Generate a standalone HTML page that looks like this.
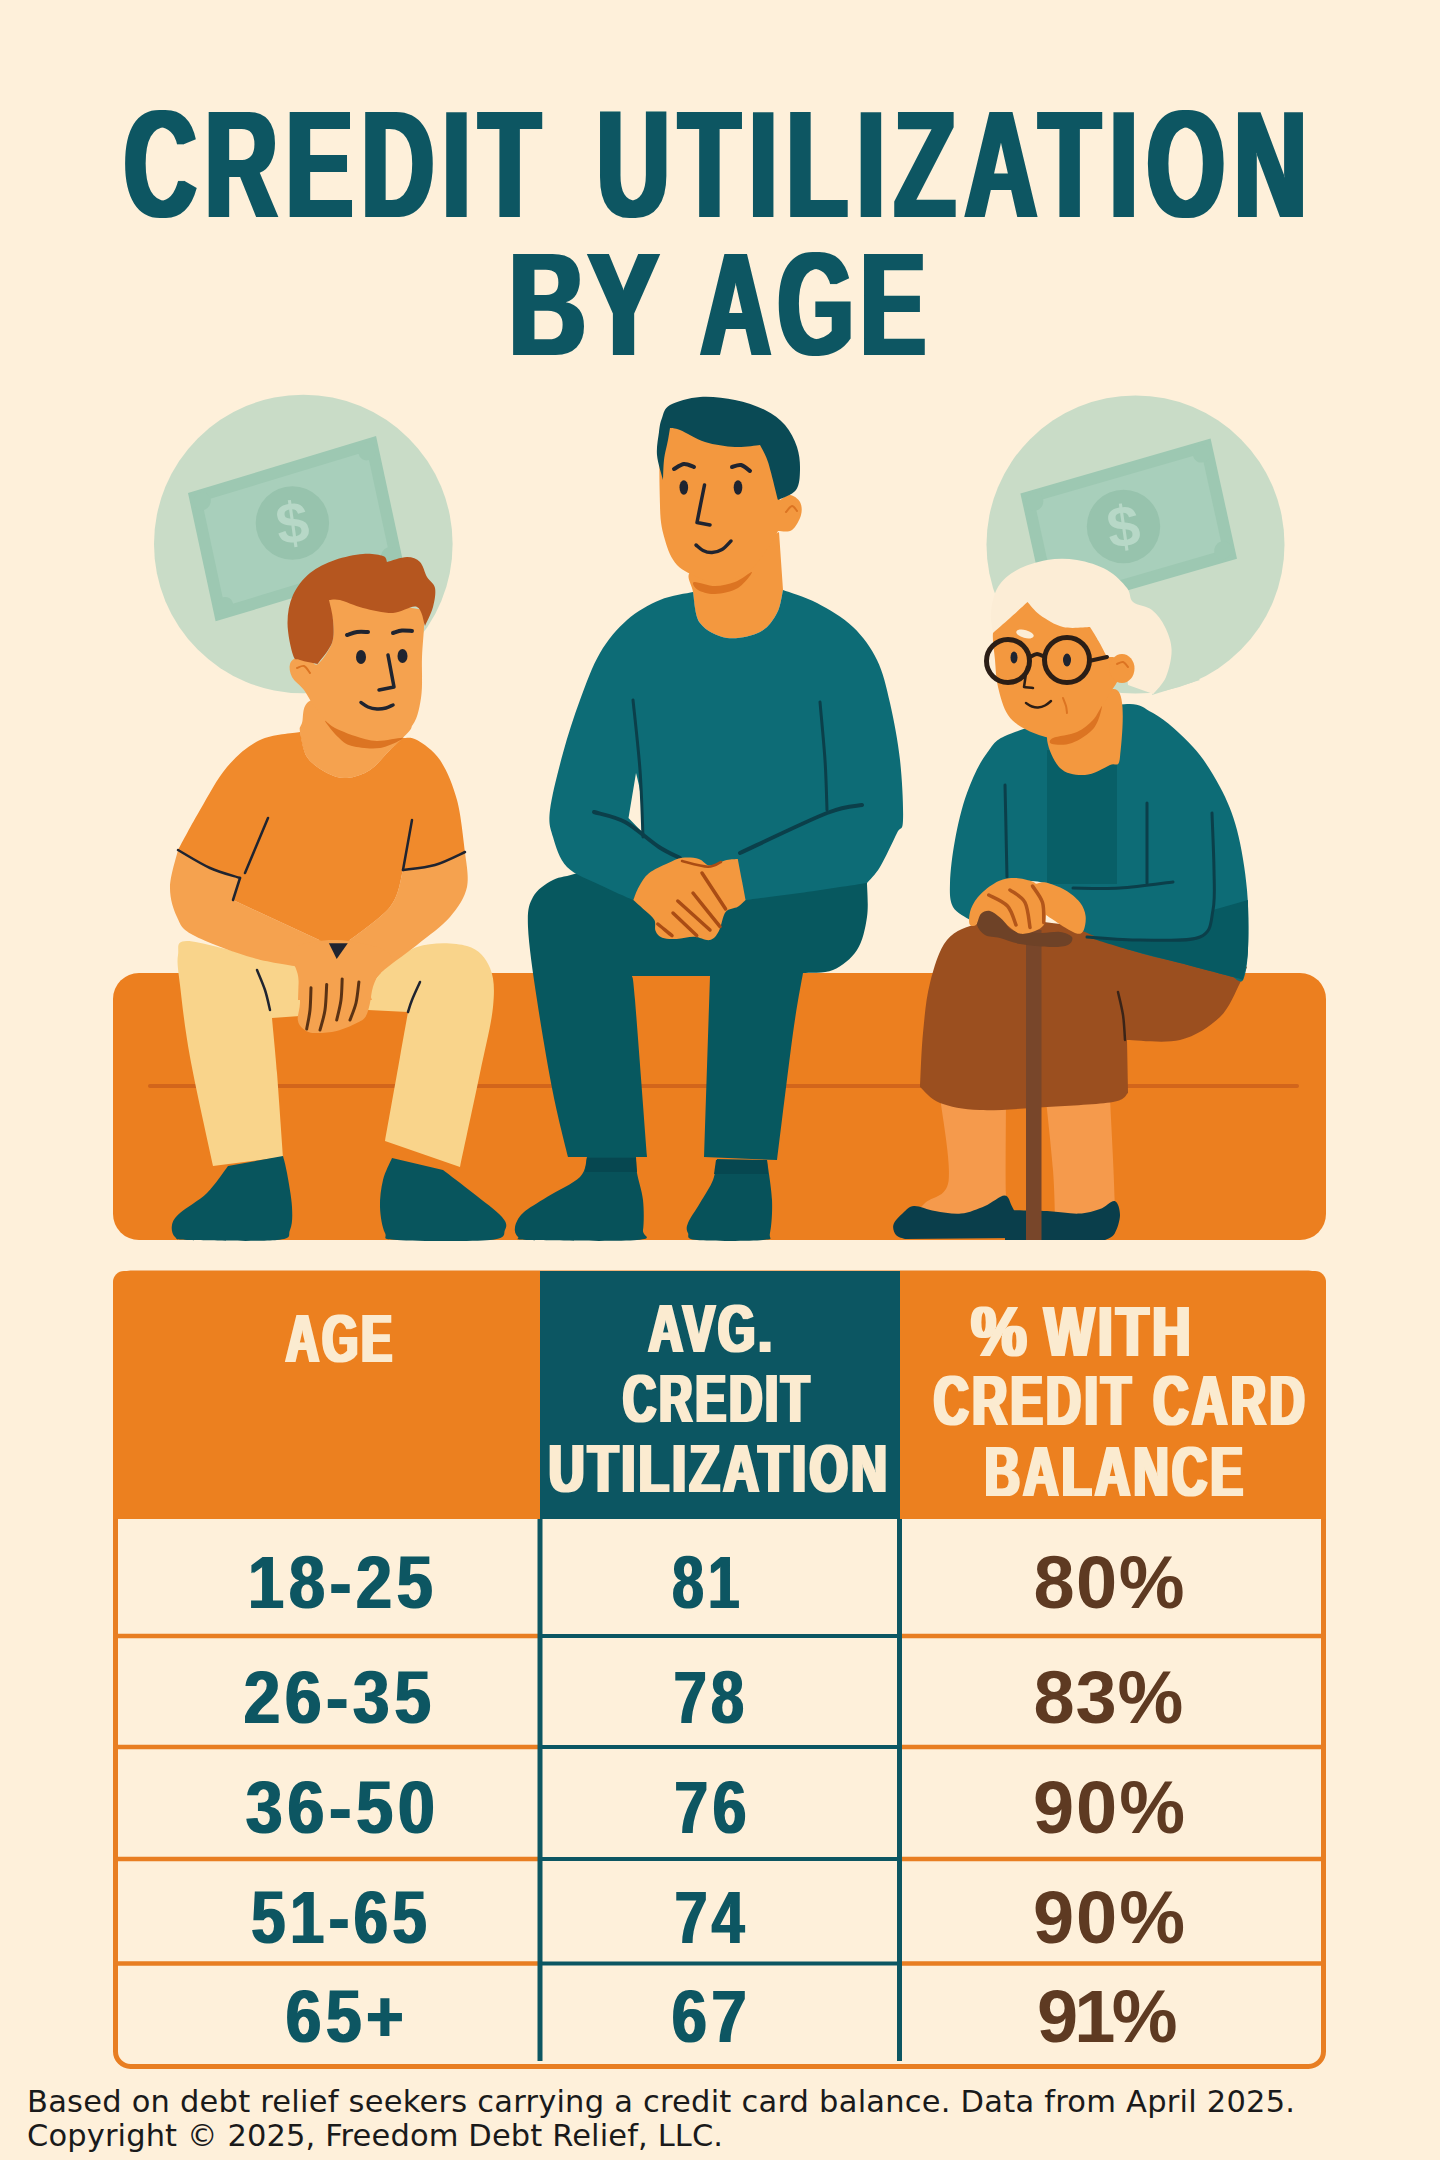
<!DOCTYPE html>
<html lang="en">
<head>
<meta charset="utf-8">
<title>Credit Utilization by Age</title>
<style>
html,body{margin:0;padding:0;background:#FEF0DA;}
body{width:1440px;height:2160px;overflow:hidden;}
svg{display:block;}
.t{font-family:"Liberation Sans",Arial,sans-serif;font-weight:bold;}
.f{font-family:"DejaVu Sans","Liberation Sans",sans-serif;}
</style>
</head>
<body>
<svg width="1440" height="2160" viewBox="0 0 1440 2160">
<defs>
<filter id="fat" x="-5%" y="-5%" width="110%" height="110%"><feMorphology operator="dilate" radius="3 0"/></filter>
<filter id="fat2" x="-5%" y="-5%" width="110%" height="110%"><feMorphology operator="dilate" radius="1.8 0"/></filter>
<filter id="fat3" x="-5%" y="-5%" width="110%" height="110%"><feMorphology operator="dilate" radius="1 0.3"/></filter>
</defs>
<rect width="1440" height="2160" fill="#FEF0DA"/>

<!-- TITLE -->
<g class="t" fill="#0C5662" filter="url(#fat)">
<text transform="translate(123.99 216.5) scale(0.6600 1)" font-size="152" letter-spacing="12.98">CREDIT</text>
<text transform="translate(596.98 216.5) scale(0.6600 1)" font-size="152" letter-spacing="14.10">UTILIZATION</text>
<text transform="translate(509.08 355) scale(0.7239 1)" font-size="147" letter-spacing="2.94">BY</text>
<text transform="translate(700.56 355) scale(0.6636 1)" font-size="147" letter-spacing="10.29">AGE</text>
</g>

<!-- ILLUSTRATION -->
<g id="illu">
<circle cx="303.3" cy="544" r="149.3" fill="#C9DCC7"/>
<g transform="matrix(0.9570 -0.2901 0.2102 0.9777 188.00 493.00)">
<rect width="196.5" height="131.3" fill="#9DC8B2"/>
<rect x="12" y="12" width="172.5" height="107.3" fill="#A8CFBB"/>
<circle cx="12.0" cy="12.0" r="9" fill="#9DC8B2"/>
<circle cx="184.5" cy="12.0" r="9" fill="#9DC8B2"/>
<circle cx="12.0" cy="119.3" r="9" fill="#9DC8B2"/>
<circle cx="184.5" cy="119.3" r="9" fill="#9DC8B2"/>
</g>
<circle cx="292.4" cy="523" r="36.700" fill="#97C3AD"/>
<text x="292.4" y="543" transform="rotate(-8 292.4 523)" text-anchor="middle" font-family="Liberation Sans,sans-serif" font-weight="bold" font-size="58" fill="#B7D8C7">$</text>
<path d="M1152 695L1166 655L1200 680Z" fill="#C9DCC7"/>
<circle cx="1135.5" cy="544.5" r="149" fill="#C9DCC7"/>
<g transform="matrix(0.9606 -0.2778 0.2144 0.9768 1020.40 493.40)">
<rect width="198.0" height="123.2" fill="#9DC8B2"/>
<rect x="12" y="12" width="174.0" height="99.2" fill="#A8CFBB"/>
<circle cx="12.0" cy="12.0" r="9" fill="#9DC8B2"/>
<circle cx="186.0" cy="12.0" r="9" fill="#9DC8B2"/>
<circle cx="12.0" cy="111.2" r="9" fill="#9DC8B2"/>
<circle cx="186.0" cy="111.2" r="9" fill="#9DC8B2"/>
</g>
<circle cx="1123.5" cy="526.5" r="36.700" fill="#97C3AD"/>
<text x="1123.5" y="546.5" transform="rotate(-8 1123.5 526.5)" text-anchor="middle" font-family="Liberation Sans,sans-serif" font-weight="bold" font-size="58" fill="#B7D8C7">$</text>
<rect x="113" y="973" width="1213" height="267" rx="26" fill="#EC7F1F"/>
<path d="M150 1086H1297" stroke="#D2651B" stroke-width="4" stroke-linecap="round"/>
<g id="boy">
<path d="M187 941C199 941 231.2 951 250 955C268.8 959 291.7 963.3 300 965L300 1016L272 1018C272.8 1027.2 275.2 1049.8 277 1073C278.8 1096.2 282 1143 283 1157L213 1166C209.2 1147.8 195.5 1087.2 190 1057C184.5 1026.8 182 1002 180 985C178 968 176.8 962.3 178 955C179.2 947.7 175 941 187 941Z" fill="#F9D48B"/>
<path d="M368 1003C369.5 998.7 368.8 986.3 377 977C385.2 967.7 402 952.2 417 947C432 941.8 454.8 942.5 467 946C479.2 949.5 485.7 957.8 490 968C494.3 978.2 494.7 989.5 493 1007C491.3 1024.5 485.5 1046.3 480 1073C474.5 1099.7 463.3 1151.3 460 1167L385 1141C387.5 1127 396.2 1078.5 400 1057C403.8 1035.5 406.7 1019.5 408 1012L368 1010L368 1003Z" fill="#F9D48B"/>
<path d="M257 970C258.3 973.3 262.8 983.3 265 990C267.2 996.7 269.2 1006.7 270 1010" fill="none" stroke="#1F2430" stroke-width="2.5" stroke-linecap="round" stroke-linejoin="round"/>
<path d="M420 982C418.7 985 414 995 412 1000C410 1005 408.7 1010 408 1012" fill="none" stroke="#1F2430" stroke-width="2.5" stroke-linecap="round" stroke-linejoin="round"/>
<path d="M228 1166L283 1156C283.7 1158.8 285.5 1164.5 287 1173C288.5 1181.5 291.5 1197.5 292 1207C292.5 1216.5 292.5 1224.5 290 1230C287.5 1235.5 293.7 1238.3 277 1240C260.3 1241.7 207 1240.5 190 1240C173 1239.5 178 1239.5 175 1237C172 1234.5 171.2 1229 172 1225C172.8 1221 174.2 1218.3 180 1213C185.8 1207.7 199 1200.8 207 1193C215 1185.2 224.5 1170.5 228 1166Z" fill="#08555D"/>
<path d="M392 1158L443 1170C448 1173.8 463.2 1185.2 473 1193C482.8 1200.8 496.7 1210.8 502 1217C507.3 1223.2 507 1226.2 505 1230C503 1233.8 508 1238.3 490 1240C472 1241.7 414.5 1241.2 397 1240C379.5 1238.8 387.8 1238.5 385 1233C382.2 1227.5 380.3 1215.8 380 1207C379.7 1198.2 381 1188.2 383 1180C385 1171.8 390.5 1161.7 392 1158Z" fill="#08555D"/>
<path d="M300 940L350 940L372 1000L298 1000L300 940Z" fill="#F5A24F"/>
<path d="M178 850C176.7 856.2 170.2 875.8 170 887C169.8 898.2 173.2 909 177 917C180.8 925 180.8 928.3 193 935C205.2 941.7 232.2 951.7 250 957C267.8 962.3 291.7 965.3 300 967L312 960L330 945L233 900L240 878L178 850Z" fill="#F5A24F"/>
<path d="M465 852C465.3 857.8 469.5 876.2 467 887C464.5 897.8 458.3 907.3 450 917C441.7 926.7 429.2 935 417 945C404.8 955 385.2 967.3 377 977C368.8 986.7 369.5 998.7 368 1003L350 960L343 945C350.8 938.7 380 919.5 390 907C400 894.5 400.8 876.2 403 870L465 852Z" fill="#F5A24F"/>
<path d="M312 700C300.7 703.8 304 717.7 302 723C300 728.3 299.2 726.3 300 732C300.8 737.7 302.5 750.2 307 757C311.5 763.8 320.3 769.5 327 773C333.7 776.5 339.8 778.5 347 778C354.2 777.5 362.8 774.7 370 770C377.2 765.3 384.5 755.3 390 750C395.5 744.7 399.7 742.7 403 738C406.3 733.3 415.5 728.3 410 722C404.5 715.7 386.3 703.7 370 700C353.7 696.3 323.3 696.2 312 700Z" fill="#F5A24F"/>
<path d="M300 732C293.3 733.3 272.2 734.2 260 740C247.8 745.8 237 755.3 227 767C217 778.7 208.2 796.2 200 810C191.8 823.8 181.7 843.3 178 850C183.3 853 199.7 863.3 210 868C220.3 872.7 235 876.3 240 878L233 900L330 945L343 945C350.8 938.7 380 919.5 390 907C400 894.5 400.8 876.2 403 870C408.3 869.2 424.7 868 435 865C445.3 862 460 854.2 465 852C463.7 843.3 461.2 815.3 457 800C452.8 784.7 446.7 770 440 760C433.3 750 423.2 743.7 417 740C410.8 736.3 405.3 738.3 403 738C400.8 740 395.5 744.7 390 750C384.5 755.3 377.2 765.3 370 770C362.8 774.7 354.2 777.5 347 778C339.8 778.5 333.7 776.5 327 773C320.3 769.5 311.5 763.8 307 757C302.5 750.2 301.2 736.2 300 732Z" fill="#F08A2C"/>
<path d="M268 818C264.2 827.2 248.8 863.8 245 873" fill="none" stroke="#1F2430" stroke-width="2.5" stroke-linecap="round" stroke-linejoin="round"/>
<path d="M412 820C410.5 828.3 404.5 861.7 403 870" fill="none" stroke="#1F2430" stroke-width="2.5" stroke-linecap="round" stroke-linejoin="round"/>
<path d="M178 850C183.3 853 199.7 863.3 210 868C220.3 872.7 235 876.3 240 878" fill="none" stroke="#1F2430" stroke-width="2.5" stroke-linecap="round" stroke-linejoin="round"/>
<path d="M240 878C238.8 881.7 234.2 896.3 233 900" fill="none" stroke="#1F2430" stroke-width="2.5" stroke-linecap="round" stroke-linejoin="round"/>
<path d="M403 870C408.3 869.2 424.7 868 435 865C445.3 862 460 854.2 465 852" fill="none" stroke="#1F2430" stroke-width="2.5" stroke-linecap="round" stroke-linejoin="round"/>
<path d="M290 957.8C289.3 961.6 294.1 963.9 295.6 967.8C297.1 971.7 298.2 975.1 298.9 981C299.6 986.9 300.2 996.5 300 1003C299.8 1009.5 297.2 1015.7 297.8 1020C298.4 1024.3 300.5 1026.7 303.3 1028.9C306.1 1031.1 308.8 1032.7 314.4 1033C320 1033.3 329.6 1032.7 336.7 1031C343.8 1029.3 351.9 1025.4 356.7 1023C361.5 1020.6 363.4 1020 365.6 1016.7C367.8 1013.4 368.8 1008 370 1003C371.2 998 371.2 992.2 373 986.7C374.8 981.2 377.8 974.5 381 970C384.2 965.5 392.2 963.7 392 960C391.8 956.3 389.2 951.3 380 948C370.8 944.7 350.3 940.5 337 940C323.7 939.5 307.8 942 300 945C292.2 948 290.7 954 290 957.8Z" fill="#F5A24F"/>
<path d="M311 987.8C310.8 991.5 310.7 1003.1 310 1010C309.3 1016.9 307.2 1025.8 306.7 1028.9" fill="none" stroke="#5A3214" stroke-width="3" stroke-linecap="round" stroke-linejoin="round"/>
<path d="M326.7 984.4C326.4 988.7 326.1 1002.4 325 1010C323.9 1017.6 320.8 1026.7 320 1030" fill="none" stroke="#5A3214" stroke-width="3" stroke-linecap="round" stroke-linejoin="round"/>
<path d="M342.2 978.9C342 982.4 341.9 993.1 341 1000C340.1 1006.9 337.4 1016.7 336.7 1020" fill="none" stroke="#5A3214" stroke-width="3" stroke-linecap="round" stroke-linejoin="round"/>
<path d="M358.9 982C358.4 985.5 357.5 996.7 356 1003C354.5 1009.3 351 1017.2 350 1020" fill="none" stroke="#5A3214" stroke-width="3" stroke-linecap="round" stroke-linejoin="round"/>
<path d="M328.900 943.300L347.800 943.300L336.700 958.900Z" fill="#1F2430"/>
<path d="M330 598C345.2 596.3 408.3 608 424 610C424 612.8 424.3 619.2 424 627C423.7 634.8 422.5 645.2 422 657C421.5 668.8 423 686.2 421 698C419 709.8 417.3 720.8 410 728C402.7 735.2 389.5 741 377 741C364.5 741 345.3 733.7 335 728C324.7 722.3 320.2 713.3 315 707C309.8 700.7 307.8 695 304 690C300.2 685 294.3 681.3 292 677C289.7 672.7 289 667.3 290 664C291 660.7 294.7 657.7 298 657C301.3 656.3 306.7 658.8 310 660C313.3 661.2 314.3 666.8 318 664C321.7 661.2 329.5 650.3 332 643C334.5 635.7 333.3 627.5 333 620C332.7 612.5 314.8 599.7 330 598Z" fill="#F5A24F"/>
<path d="M325 721C324.5 719.5 330 725.5 335 728C340 730.5 348 733.8 355 736C362 738.2 369 740.7 377 741C385 741.3 402.5 736.8 403 738C403.5 739.2 388.5 746.7 380 748C371.5 749.3 359 747.8 352 746C345 744.2 342.5 741.2 338 737C333.5 732.8 325.5 722.5 325 721Z" fill="#DC7422"/>
<path d="M297 668C298.2 667.7 301.8 665.2 304 666C306.2 666.8 309 671.8 310 673" fill="none" stroke="#DC7422" stroke-width="2" stroke-linecap="round" stroke-linejoin="round"/>
<path d="M317.5 664C314.6 663.3 304.1 661.5 300 660C295.9 658.5 295.1 661.2 293 655C290.9 648.8 287.5 633 287.5 623C287.5 613 289.2 603.3 293 595C296.8 586.7 303 578.8 310 573C317 567.2 326.2 563.2 335 560C343.8 556.8 355 554.7 363 554C371 553.3 379 554.7 383 556C387 557.3 386.3 561 387 562C390.3 561.2 401.5 557 407 557C412.5 557 416.7 558.7 420 562C423.3 565.3 424.5 572.7 427 577C429.5 581.3 434 583 435 588C436 593 434.7 600.7 433 607C431.3 613.3 426.3 622.8 425 626C423.7 622.8 422.3 609.2 417 607C411.7 604.8 402 612.8 393 613C384 613.2 371.8 610.2 363 608C354.2 605.8 345.7 601.3 340 600C334.3 598.7 330.8 600 329 600C329.7 603.3 332.5 612.8 333 620C333.5 627.2 334.6 635.7 332 643C329.4 650.3 319.9 660.5 317.5 664Z" fill="#B5561F"/>
<ellipse cx="361" cy="657" rx="5" ry="7" fill="#1F2430"/><ellipse cx="402.500" cy="656" rx="5" ry="7" fill="#1F2430"/>
<path d="M347 635C348.7 634.5 353.5 632.5 357 632C360.5 631.5 366.2 632 368 632" fill="none" stroke="#1F2430" stroke-width="4" stroke-linecap="round" stroke-linejoin="round"/>
<path d="M393 633C394.5 632.6 398.8 630.8 402 630.5C405.2 630.2 410.3 630.9 412 631" fill="none" stroke="#1F2430" stroke-width="4" stroke-linecap="round" stroke-linejoin="round"/>
<path d="M388 655C389 660.3 393 681.7 394 687C391.5 687.5 381.5 689.5 379 690" fill="none" stroke="#1F2430" stroke-width="3.5" stroke-linecap="round" stroke-linejoin="round"/>
<path d="M361 702.5C362.2 703.2 365.3 705.9 368 707C370.7 708.1 374 708.8 377 709C380 709.2 383.3 708.7 386 708C388.7 707.3 391.8 705.5 393 705" fill="none" stroke="#1F2430" stroke-width="3.5" stroke-linecap="round" stroke-linejoin="round"/>
</g>
<g id="man">
<path d="M580 872C565.5 877.8 560.8 875.8 553 880C545.2 884.2 537.2 889.2 533 897C528.8 904.8 527.3 909.8 528 927C528.7 944.2 532.8 972.3 537 1000C541.2 1027.7 547.8 1066.8 553 1093C558.2 1119.2 565.5 1146.3 568 1157L647 1157C645 1130.8 637.5 1030.2 635 1000C632.5 969.8 632.5 980 632 976L710 976L704 1157L777 1160C779.7 1138.8 788.7 1064.2 793 1033C797.3 1001.8 801.3 983 803 973C808 972.5 824 973.8 833 970C842 966.2 851.3 958.8 857 950C862.7 941.2 865.3 928.2 867 917C868.7 905.8 867 888.7 867 883C845.8 876.7 777.8 851.3 740 845C702.2 838.7 666.7 840.5 640 845C613.3 849.5 594.5 866.2 580 872Z" fill="#07585F"/>
<path d="M587 1157L636 1157C636.2 1159.7 635.8 1165.8 637 1173C638.2 1180.2 642 1190.5 643 1200C644 1209.5 644 1223.3 643 1230C642 1236.7 655.8 1238.3 637 1240C618.2 1241.7 549.8 1240.5 530 1240C510.2 1239.5 520.5 1239.2 518 1237C515.5 1234.8 514.2 1231 515 1227C515.8 1223 517.7 1218 523 1213C528.3 1208 537.5 1203 547 1197C556.5 1191 573.3 1183.7 580 1177C586.7 1170.3 585.8 1160.3 587 1157Z" fill="#07525A"/>
<path d="M717 1159L767 1160C767.8 1166.7 771.5 1187.8 772 1200C772.5 1212.2 771.5 1226.3 770 1233C768.5 1239.7 775.2 1238.8 763 1240C750.8 1241.2 709.5 1241.2 697 1240C684.5 1238.8 689.5 1235.8 688 1233C686.5 1230.2 686 1228 688 1223C690 1218 695.8 1210.2 700 1203C704.2 1195.8 710.2 1187.3 713 1180C715.8 1172.7 716.3 1162.5 717 1159Z" fill="#07525A"/>
<path d="M587 1158H636L637 1172H585Z" fill="#064750"/><path d="M716 1160H767L768 1174H714Z" fill="#064750"/>
<path d="M692 570C684.2 576.2 691.7 583.2 693 592C694.3 600.8 694.3 615.3 700 623C705.7 630.7 717 636.5 727 638C737 639.5 751.7 636.2 760 632C768.3 627.8 773.2 620 777 613C780.8 606 782 593.8 783 590L779 532C772.5 535.8 754.5 548.7 740 555C725.5 561.3 699.8 563.8 692 570Z" fill="#F3983F"/>
<path d="M693 592C687.5 593.3 671 595.3 660 600C649 604.7 637 611.2 627 620C617 628.8 607.8 639.7 600 653C592.2 666.3 586.2 683.3 580 700C573.8 716.7 568 734.7 563 753C558 771.3 551.7 796 550 810C548.3 824 550.2 827.5 553 837C555.8 846.5 559.2 859 567 867C574.8 875 589 879.5 600 885C611 890.5 627.5 897.5 633 900L643 880L682 864L710 870L733 864L745 900C754.2 898.8 779.7 895.8 800 893C820.3 890.2 855.8 884.7 867 883C869.2 880.3 875 875.3 880 867C885 858.7 893.2 840.8 897 833C900.8 825.2 902.5 832.2 903 820C903.5 807.8 902.2 779.5 900 760C897.8 740.5 893.8 719.7 890 703C886.2 686.3 883.2 672.7 877 660C870.8 647.3 863 636.5 853 627C843 617.5 828.7 609.2 817 603C805.3 596.8 788.7 592.2 783 590C782 593.8 780.8 606 777 613C773.2 620 768.3 627.8 760 632C751.7 636.2 737 639.5 727 638C717 636.5 705.7 630.7 700 623C694.3 615.3 694.2 597.2 693 592Z" fill="#0D6C76"/>
<path d="M636 773C636.8 776.7 639.5 785.2 640.5 795C641.5 804.8 641.8 825.8 642 832L628.5 818L636 773Z" fill="#FEF0DA"/>
<path d="M633 700C634.2 711.7 638.3 747.2 640 770C641.7 792.8 642.5 825.8 643 837" fill="none" stroke="#0B3F4A" stroke-width="3" stroke-linecap="round" stroke-linejoin="round"/>
<path d="M820 702C820.8 711.7 823.8 742 825 760C826.2 778 826.7 801.7 827 810" fill="none" stroke="#0B3F4A" stroke-width="3" stroke-linecap="round" stroke-linejoin="round"/>
<path d="M594 812C599.2 813.7 614.2 816.2 625 822C635.8 827.8 649.8 841 659 847C668.2 853 676.5 856.2 680 858" fill="none" stroke="#0B3F4A" stroke-width="4" stroke-linecap="round" stroke-linejoin="round"/>
<path d="M862 805C856.2 806.3 847.3 805 827 813C806.7 821 754.5 846.3 740 853" fill="none" stroke="#0B3F4A" stroke-width="4" stroke-linecap="round" stroke-linejoin="round"/>
<path d="M682.2 857.8C677 858.5 673.3 860.7 667.8 863.3C662.2 865.9 653.7 869.4 648.9 873.3C644.1 877.2 641.5 882.2 638.9 886.7C636.3 891.2 634.2 897.8 633.3 900C635.3 901.8 642.1 907.7 645.6 911C649.1 914.3 652.7 916.7 654.4 920C656.1 923.3 654.3 928 655.6 931C656.9 934 658.7 936.5 662.2 937.8C665.7 939.1 671.3 939.1 676.7 938.9C682.1 938.7 688.9 936.5 694.4 936.7C699.9 936.9 705.9 941 710 940C714.1 939 716.3 935.7 718.9 931C721.5 926.3 722.5 916 725.6 912C728.8 908 734.5 908.7 737.8 906.7C741.1 904.7 744.3 901.1 745.6 900C745 897 743.5 888.9 742.2 882C740.9 875.1 738.5 862.8 737.8 858.9C735.9 859.1 731.3 858.9 726.7 860C722.1 861.1 714.6 865.8 710 865.6C705.4 865.4 703.5 860.2 698.9 858.9C694.3 857.6 687.4 857.1 682.2 857.8Z" fill="#F3983F"/>
<path d="M702 873C705.9 879 721.7 903 725.6 909" fill="none" stroke="#AA4C14" stroke-width="3.5" stroke-linecap="round" stroke-linejoin="round"/>
<path d="M693 893C697.5 898.6 715.5 921.1 720 926.7" fill="none" stroke="#AA4C14" stroke-width="3.5" stroke-linecap="round" stroke-linejoin="round"/>
<path d="M677.8 901C683.2 905.8 704.6 925.2 710 930" fill="none" stroke="#AA4C14" stroke-width="3.5" stroke-linecap="round" stroke-linejoin="round"/>
<path d="M673 913C677 916.8 692.8 931.8 696.7 935.6" fill="none" stroke="#AA4C14" stroke-width="3.5" stroke-linecap="round" stroke-linejoin="round"/>
<path d="M657.8 924C660.2 925.9 669.6 933.7 672 935.6" fill="none" stroke="#AA4C14" stroke-width="3.5" stroke-linecap="round" stroke-linejoin="round"/>
<path d="M682 861C686.3 862 701.3 866.5 707.8 866.7C714.3 866.9 718.8 862.8 721 862" fill="none" stroke="#AA4C14" stroke-width="2.5" stroke-linecap="round" stroke-linejoin="round"/>
<path d="M664 430C657.3 443.3 659.8 486.7 660 505C660.2 523.3 662.2 530 665 540C667.8 550 671.2 558.7 677 565C682.8 571.3 692.8 575 700 578C707.2 581 711.7 584.3 720 583C728.3 581.7 741.7 576.3 750 570C758.3 563.7 765.3 551.5 770 545C774.7 538.5 776.7 533.3 778 531C780.3 530.8 788.2 532.7 792 530C795.8 527.3 799.7 519.7 801 515C802.3 510.3 801.8 505.3 800 502C798.2 498.7 793.3 495.3 790 495C786.7 494.7 781.7 499.2 780 500C779.2 495 778.3 480 775 470C771.7 460 772.5 447.5 760 440C747.5 432.5 716 426.7 700 425C684 423.3 670.7 416.7 664 430Z" fill="#F3983F"/>
<path d="M694 582C696.8 581.3 708.2 586 715 586C721.8 586 728.8 584.3 735 582C741.2 579.7 751.5 571 752 572C752.5 573 744.2 584.3 738 588C731.8 591.7 721.7 593.7 715 594C708.3 594.3 701.5 592 698 590C694.5 588 691.2 582.7 694 582Z" fill="#DC7422"/>
<path d="M786 512C787 511 790.2 506.2 792 506C793.8 505.8 796.2 510.2 797 511" fill="none" stroke="#DC7422" stroke-width="2" stroke-linecap="round" stroke-linejoin="round"/>
<path d="M662 418C663.8 413.5 663.7 408.5 670 405C676.3 401.5 689.2 397.8 700 397C710.8 396.2 724.2 397.8 735 400C745.8 402.2 756.7 405.8 765 410C773.3 414.2 779.7 418.8 785 425C790.3 431.2 794.5 439.5 797 447C799.5 454.5 800.2 462.8 800 470C799.8 477.2 799.7 485 796 490C792.3 495 781 498.3 778 500C776.3 493.7 771 471.2 768 462C765 452.8 761.3 447.8 760 445C755.8 445.3 744.2 447.5 735 447C725.8 446.5 714.2 444.8 705 442C695.8 439.2 685.8 432.3 680 430C674.2 427.7 671.7 428.3 670 428C669.7 430 669 434.7 668 440C667 445.3 664.8 453.3 664 460C663.2 466.7 663.2 476.7 663 480C662 475.8 657.7 463 657 455C656.3 447 658.2 438.2 659 432C659.8 425.8 660.2 422.5 662 418Z" fill="#0A4A55"/>
<ellipse cx="683.800" cy="487.500" rx="4.300" ry="7.300" fill="#1F2430"/><ellipse cx="738" cy="487.500" rx="4.300" ry="7.300" fill="#1F2430"/>
<path d="M674 469C675.7 468.2 680.7 464.3 684 464C687.3 463.7 692.3 466.5 694 467" fill="none" stroke="#1F2430" stroke-width="4" stroke-linecap="round" stroke-linejoin="round"/>
<path d="M732 467C733.5 466.7 738 464.3 741 465C744 465.7 748.5 470 750 471" fill="none" stroke="#1F2430" stroke-width="4" stroke-linecap="round" stroke-linejoin="round"/>
<path d="M704.5 485C703.2 491.2 698.2 516.2 697 522.5C699.2 522.9 707.8 524.6 710 525" fill="none" stroke="#1F2430" stroke-width="3.5" stroke-linecap="round" stroke-linejoin="round"/>
<path d="M696 545C697.2 545.9 700.3 549.2 703 550.5C705.7 551.8 708.8 552.7 712 552.5C715.2 552.3 718.8 551.4 722 549.5C725.2 547.6 729.5 542.4 731 541" fill="none" stroke="#1F2430" stroke-width="3.5" stroke-linecap="round" stroke-linejoin="round"/>
</g>
<g id="woman">
<path d="M940.5 1100L1006 1100C1006 1115.8 1005.3 1175.3 1006 1195C1006.7 1214.7 1009.3 1214.2 1010 1218L912 1218C914.2 1215.5 918.9 1209.2 925 1203C931.1 1196.8 946 1198.2 948.6 1181C951.2 1163.8 941.9 1113.5 940.5 1100Z" fill="#F59A4C"/>
<path d="M1046 1100L1110 1098C1110.8 1114.8 1114.3 1179 1114.6 1199C1114.9 1219 1112.4 1214.8 1112 1218L1055 1218C1054.7 1210 1054.5 1189.7 1053 1170C1051.5 1150.3 1047.2 1111.7 1046 1100Z" fill="#F59A4C"/>
<path d="M893.5 1224.4C894.7 1220.7 899.6 1216.1 903 1213C906.4 1209.9 908.7 1206.3 914 1206C919.3 1205.7 927.2 1209.7 935 1211C942.8 1212.3 952.7 1214.4 961 1213.6C969.3 1212.8 977.8 1209 985 1206C992.2 1203 1000 1195.5 1004.5 1195.5C1009 1195.5 1009.5 1201.6 1011.8 1206C1014 1210.4 1017.5 1216.7 1018 1222C1018.5 1227.3 1015.5 1235.3 1015 1238L905 1239C903.5 1238.3 897.9 1237.4 896 1235C894.1 1232.6 892.3 1228.1 893.5 1224.4Z" fill="#0A3E4B"/>
<path d="M1005 1210C1012 1210.2 1034.7 1210.4 1047 1211C1059.3 1211.6 1069.8 1213.9 1078.6 1213.6C1087.4 1213.3 1094 1211.1 1100 1209C1106 1206.9 1111.4 1200 1114.7 1201C1118 1202 1120 1209.6 1120 1215C1120 1220.4 1117.2 1229.2 1114.7 1233.4C1112.2 1237.6 1106.6 1238.9 1105 1240L1005 1240L1005 1210Z" fill="#0A3E4B"/>
<path d="M980 923C967.8 926.3 955.3 930 947 940C938.7 950 934 967.5 930 983C926 998.5 924.7 1015.7 923 1033C921.3 1050.3 920.5 1078 920 1087C923.3 1089.7 930 1099.2 940 1103C950 1106.8 962.2 1109.3 980 1110C997.8 1110.7 1024.8 1108.3 1047 1107C1069.2 1105.7 1099.5 1104.3 1113 1102C1126.5 1099.7 1125.5 1094.5 1128 1093L1127 1040C1135.8 1040 1164.5 1043.8 1180 1040C1195.5 1036.2 1210 1026.5 1220 1017C1230 1007.5 1235.5 991.3 1240 983C1244.5 974.7 1245.8 969.7 1247 967C1244.7 965.8 1244.2 963.7 1233 960C1221.8 956.3 1197.2 949.2 1180 945C1162.8 940.8 1148.8 938.3 1130 935C1111.2 931.7 1085.3 927.5 1067 925C1048.7 922.5 1034.5 920.3 1020 920C1005.5 919.7 992.2 919.7 980 923Z" fill="#9B4F1F"/>
<path d="M1118 992C1118.8 995.8 1121.8 1007 1123 1015C1124.2 1023 1124.7 1035.8 1125 1040" fill="none" stroke="#3A2418" stroke-width="2.5" stroke-linecap="round" stroke-linejoin="round"/>
<rect x="1026" y="930" width="15.500" height="310" fill="#78462A"/>
<path d="M1015 732C993.3 740 995 742.8 987 753C979 763.2 972.3 778.5 967 793C961.7 807.5 957.8 825 955 840C952.2 855 950.3 871.8 950 883C949.7 894.2 949.7 900.8 953 907C956.3 913.2 967.2 917.8 970 920L980 900L1010 882C1015 882 1029.5 879.5 1040 882C1050.5 884.5 1065.5 891.2 1073 897C1080.5 902.8 1083 913.7 1085 917L1080 930C1088.3 933.3 1113.3 944.5 1130 950C1146.7 955.5 1162.8 958.5 1180 963C1197.2 967.5 1224.2 974.7 1233 977C1234.7 977.5 1240.5 984.5 1243 980C1245.5 975.5 1247.3 965 1248 950C1248.7 935 1248.8 910 1247 890C1245.2 870 1241.5 847.2 1237 830C1232.5 812.8 1227.3 800.8 1220 787C1212.7 773.2 1204.2 759.3 1193 747C1181.8 734.7 1165.7 720 1153 713C1140.3 706 1140 701.8 1117 705C1094 708.2 1036.7 724 1015 732Z" fill="#0D6C76"/>
<path d="M1213 910L1248 900C1248 908.3 1248.8 936.7 1248 950C1247.2 963.3 1243.8 975 1243 980C1241.3 979.5 1243.5 979.8 1233 977C1222.5 974.2 1197.2 967.5 1180 963C1162.8 958.5 1145.5 954.3 1130 950C1114.5 945.7 1094.2 939.2 1087 937C1095.8 937.5 1121.2 940 1140 940C1158.8 940 1187.8 942 1200 937C1212.2 932 1210.8 914.5 1213 910Z" fill="#075A62"/>
<rect x="1047" y="750" width="70" height="134" fill="#085F67"/>
<path d="M1005 785C1005.2 792.5 1005.7 814.7 1006 830C1006.3 845.3 1006.8 869.2 1007 877" fill="none" stroke="#0B3F4A" stroke-width="3" stroke-linecap="round" stroke-linejoin="round"/>
<path d="M1147 803C1147 816.3 1147 869.7 1147 883" fill="none" stroke="#0B3F4A" stroke-width="3" stroke-linecap="round" stroke-linejoin="round"/>
<path d="M1073 888C1080.8 888 1103.3 889 1120 888C1136.7 887 1164.2 883 1173 882" fill="none" stroke="#0B3F4A" stroke-width="3" stroke-linecap="round" stroke-linejoin="round"/>
<path d="M1212 813C1212.3 822.5 1213.8 853.8 1214 870C1214.2 886.2 1215.3 898.8 1213 910C1210.7 921.2 1212.2 932 1200 937C1187.8 942 1158.8 940 1140 940C1121.2 940 1095.8 937.5 1087 937" fill="none" stroke="#0B3F4A" stroke-width="3" stroke-linecap="round" stroke-linejoin="round"/>
<path d="M977 925C976 921.2 976.8 914.7 979 912C981.2 909.3 986.2 908.3 990 909C993.8 909.7 998.3 912.5 1002 916C1005.7 919.5 1005.7 927.2 1012 930C1018.3 932.8 1032 932.7 1040 933C1048 933.3 1054.7 931.3 1060 932C1065.3 932.7 1070.7 934.8 1072 937C1073.3 939.2 1071.7 943.3 1068 945C1064.3 946.7 1058 947.2 1050 947C1042 946.8 1028.3 945.5 1020 944C1011.7 942.5 1005.8 939.5 1000 938C994.2 936.5 988.8 937.2 985 935C981.2 932.8 978 928.8 977 925Z" fill="#6E4227"/>
<path d="M969.4 923.8C968.6 921 969.1 913.8 971 908.8C972.9 903.8 976.4 898.4 981 893.8C985.6 889.1 993.1 883.6 998.8 881C1004.4 878.4 1009.6 878 1015 878C1020.4 878 1027.5 880 1031 881C1034.5 882 1035.2 883.3 1036 883.8C1037.7 883.5 1041.2 881.5 1046 882.5C1050.8 883.5 1059.3 886.7 1065 890C1070.7 893.3 1076.6 898.2 1080 902.5C1083.4 906.8 1085 911.4 1085.6 916C1086.2 920.6 1085.1 927 1083.8 930C1082.4 933 1080.6 934.2 1077.5 933.8C1074.4 933.3 1070.2 930.6 1065 927.5C1059.8 924.4 1049.2 917.1 1046 915C1045.6 916.7 1045.6 922.3 1043.8 925C1041.9 927.7 1038.8 929.5 1035 931C1031.2 932.5 1025.2 934.3 1021 933.8C1016.8 933.2 1013.5 930.2 1010 927.5C1006.5 924.8 1003.3 920.2 1000 917.5C996.7 914.8 993.2 911.6 990 911C986.8 910.4 983.3 911.4 981 913.8C978.7 916.1 977.9 923.3 976 925C974.1 926.7 970.2 926.5 969.4 923.8Z" fill="#F3983F"/>
<path d="M988.8 895C991.9 896.8 1003 901 1007.5 906C1012 911 1014.6 921.8 1016 925" fill="none" stroke="#B3561A" stroke-width="3.5" stroke-linecap="round" stroke-linejoin="round"/>
<path d="M1010 890C1012.5 892.1 1021.7 896.2 1025 902.5C1028.3 908.8 1029.2 923.3 1030 927.5" fill="none" stroke="#B3561A" stroke-width="3.5" stroke-linecap="round" stroke-linejoin="round"/>
<path d="M1032.5 886C1034.2 888.8 1040.6 896.4 1042.5 902.5C1044.4 908.6 1043.5 919.2 1043.8 922.5" fill="none" stroke="#B3561A" stroke-width="3.5" stroke-linecap="round" stroke-linejoin="round"/>
<path d="M1047 738C1047 746 1053.7 761.8 1060 768C1066.3 774.2 1076.7 775.5 1085 775C1093.3 774.5 1104.2 768 1110 765C1115.8 762 1118.8 769.5 1120 757C1121.2 744.5 1127 696.2 1117 690C1107 683.8 1071.7 712 1060 720C1048.3 728 1047 730 1047 738Z" fill="#F3983F"/>
<path d="M993 633C992.2 639.7 994.2 651 995 660C995.8 669 995.8 677.8 998 687C1000.2 696.2 1003.2 707.8 1008 715C1012.8 722.2 1019.5 726.2 1027 730C1034.5 733.8 1044.7 737.7 1053 738C1061.3 738.3 1070.3 735 1077 732C1083.7 729 1087.5 726.5 1093 720C1098.5 713.5 1105.8 699.7 1110 693C1114.2 686.3 1116 684.7 1118 680C1120 675.3 1123.3 669.2 1122 665C1120.7 660.8 1112 656.7 1110 655C1108 652.5 1101.3 644.7 1098 640C1094.7 635.3 1099.7 631.7 1090 627C1080.3 622.3 1050.5 616.2 1040 612C1029.5 607.8 1033.7 600.7 1027 602C1020.3 603.3 1005.7 614.8 1000 620C994.3 625.2 993.8 626.3 993 633Z" fill="#F3983F"/>
<path d="M1053 738C1057.2 736 1070.3 735 1077 732C1083.7 729 1088.8 724.3 1093 720C1097.2 715.7 1101.8 704.7 1102 706C1102.2 707.3 1099 721.8 1094 728C1089 734.2 1079 740.3 1072 743C1065 745.7 1055.2 744.8 1052 744C1048.8 743.2 1048.8 740 1053 738Z" fill="#DC7422"/>
<path d="M993 633C992.7 629.5 990.2 619.7 991 612C991.8 604.3 993.7 594 998 587C1002.3 580 1008.8 574.5 1017 570C1025.2 565.5 1037 561.7 1047 560C1057 558.3 1067 558.3 1077 560C1087 561.7 1098.7 565.3 1107 570C1115.3 574.7 1122.7 582.7 1127 588C1131.3 593.3 1128.8 598.3 1133 602C1137.2 605.7 1146.7 605.8 1152 610C1157.3 614.2 1161.7 620.3 1165 627C1168.3 633.7 1171.4 641.7 1171.6 650C1171.8 658.3 1169 669.7 1166 677C1163 684.3 1155.4 691.2 1153.3 694L1128 685L1125 657L1107 657C1105.5 654.2 1100.8 645 1098 640C1095.2 635 1091.3 629.2 1090 627C1085.5 627 1071.3 629 1063 627C1054.7 625 1045.9 619.2 1040 615C1034.1 610.8 1029.6 604.2 1027.5 602C1024.6 604.7 1015.8 612.8 1010 618C1004.2 623.2 995.8 630.5 993 633Z" fill="#FCEDD6"/>
<ellipse cx="1122" cy="668.500" rx="12.500" ry="14.500" fill="#F3983F"/>
<path d="M1117 664C1118 663.7 1121.2 661.5 1123 662C1124.8 662.5 1127.2 666.2 1128 667" fill="none" stroke="#DC7422" stroke-width="2" stroke-linecap="round" stroke-linejoin="round"/>
<ellipse cx="1025" cy="634" rx="9" ry="4" transform="rotate(15 1025 634)" fill="#FCEDD6"/>
<circle cx="1008" cy="661" r="21.500" fill="none" stroke="#2B1E16" stroke-width="5"/><circle cx="1067" cy="660" r="22.500" fill="none" stroke="#2B1E16" stroke-width="5"/>
<path d="M1030 657C1031.2 656.5 1034.5 654 1037 654C1039.5 654 1043.7 656.5 1045 657" fill="none" stroke="#2B1E16" stroke-width="4" stroke-linecap="round" stroke-linejoin="round"/>
<path d="M1089 661C1092 660.3 1104 657.7 1107 657" fill="none" stroke="#2B1E16" stroke-width="4" stroke-linecap="round" stroke-linejoin="round"/>
<ellipse cx="1014" cy="657.500" rx="3.500" ry="6" fill="#1F2430"/><ellipse cx="1067" cy="660" rx="4" ry="6.500" fill="#1F2430"/>
<path d="M1027 667C1026.5 670.3 1024.5 683.7 1024 687C1025.5 687.2 1031.5 687.8 1033 688" fill="none" stroke="#2B1E16" stroke-width="2.5" stroke-linecap="round" stroke-linejoin="round"/>
<path d="M1026 703C1027 703.6 1030 705.8 1032 706.5C1034 707.2 1035.8 707.7 1038 707.5C1040.2 707.3 1042.8 706.6 1045 705.5C1047.2 704.4 1050 701.8 1051 701" fill="none" stroke="#2B1E16" stroke-width="2.5" stroke-linecap="round" stroke-linejoin="round"/>
<path d="M1063 698C1063.5 699.3 1065.3 703.5 1066 706C1066.7 708.5 1066.8 711.8 1067 713" fill="none" stroke="#DC7422" stroke-width="2" stroke-linecap="round" stroke-linejoin="round"/>
</g>
</g>

<!-- TABLE -->
<g id="table">
<rect x="115.500" y="1273" width="1208" height="793.500" rx="15" fill="#FEF0DA" stroke="#E87E22" stroke-width="5"/>
<path d="M113 1519V1282a11 11 0 0 1 11-11H540V1519Z" fill="#EC801F"/>
<rect x="540" y="1271" width="360" height="248" fill="#0C5662"/>
<path d="M900 1271H1315a11 11 0 0 1 11 11V1519H900Z" fill="#EC801F"/>
<g stroke="#E87E22" stroke-width="4.500">
<path d="M115 1636H539M900 1636H1324"/>
<path d="M115 1747H539M900 1747H1324"/>
<path d="M115 1859H539M900 1859H1324"/>
<path d="M115 1963.500H539M900 1963.500H1324"/>
</g>
<g stroke="#0C5662">
<path d="M540 1519V2061M899.500 1519V2061" stroke-width="5"/>
<path d="M540 1636H900M540 1747H900M540 1859H900M540 1963.500H900" stroke-width="4"/>
</g>
<g class="t" fill="#FBEBD0" filter="url(#fat2)">
<text transform="translate(285.65 1362) scale(0.6773 1)" font-size="68" letter-spacing="4.76">AGE</text>
<text transform="translate(648.61 1352) scale(0.7022 1)" font-size="68" letter-spacing="4.76">AVG.</text>
<text transform="translate(622.97 1422) scale(0.6727 1)" font-size="68" letter-spacing="4.76">CREDIT</text>
<text transform="translate(548.84 1492) scale(0.7263 1)" font-size="68" letter-spacing="4.76">UTILIZATION</text>
<text transform="translate(971.24 1355.5) scale(0.8912 1)" font-size="70" letter-spacing="4.90">%</text>
<text transform="translate(1044.20 1355.5) scale(0.7566 1)" font-size="70" letter-spacing="4.90">WITH</text>
<text transform="translate(933.87 1425) scale(0.6908 1)" font-size="70" letter-spacing="4.90">CREDIT</text>
<text transform="translate(1153.35 1425) scale(0.6979 1)" font-size="70" letter-spacing="4.90">CARD</text>
<text transform="translate(984.64 1496) scale(0.6955 1)" font-size="70" letter-spacing="4.90">BALANCE</text>
</g>
<g class="t" fill="#0C5662" filter="url(#fat3)">
<text transform="translate(248.12 1608) scale(0.8733 1)" font-size="74" letter-spacing="5.55">18-25</text>
<text transform="translate(243.71 1722.5) scale(0.8848 1)" font-size="74" letter-spacing="5.55">26-35</text>
<text transform="translate(245.85 1833) scale(0.8936 1)" font-size="74" letter-spacing="5.55">36-50</text>
<text transform="translate(251.16 1943) scale(0.8301 1)" font-size="74" letter-spacing="5.55">51-65</text>
<text transform="translate(285.77 2042) scale(0.8627 1)" font-size="74" letter-spacing="5.55">65+</text>
<text transform="translate(672.30 1608) scale(0.7654 1)" font-size="74" letter-spacing="5.55">81</text>
<text transform="translate(673.63 1722.5) scale(0.7999 1)" font-size="74" letter-spacing="5.55">78</text>
<text transform="translate(674.59 1833) scale(0.8157 1)" font-size="74" letter-spacing="5.55">76</text>
<text transform="translate(674.65 1943) scale(0.7942 1)" font-size="74" letter-spacing="5.55">74</text>
<text transform="translate(671.79 2042) scale(0.8522 1)" font-size="74" letter-spacing="5.55">67</text>
</g>
<g class="t" fill="#5E3A22">
<text transform="translate(1033.38 1608) scale(1.0000 1)" font-size="74" letter-spacing="1.53">80%</text>
<text transform="translate(1033.38 1722.5) scale(1.0000 1)" font-size="74" letter-spacing="0.94">83%</text>
<text transform="translate(1033.01 1833) scale(1.0000 1)" font-size="74" letter-spacing="1.92">90%</text>
<text transform="translate(1033.01 1942.5) scale(1.0000 1)" font-size="74" letter-spacing="1.92">90%</text>
<text transform="translate(1036.91 2041.5) scale(1.0000 1)" font-size="74" letter-spacing="-3.73">91%</text>
</g>
</g>

<!-- FOOTER -->
<g class="f" fill="#1a1a1a" font-size="30.500">
<text x="27" y="2111.500" textLength="1268" lengthAdjust="spacing">Based on debt relief seekers carrying a credit card balance. Data from April 2025.</text>
<text x="27" y="2146" textLength="696" lengthAdjust="spacing">Copyright © 2025, Freedom Debt Relief, LLC.</text>
</g>
</svg>
</body>
</html>
